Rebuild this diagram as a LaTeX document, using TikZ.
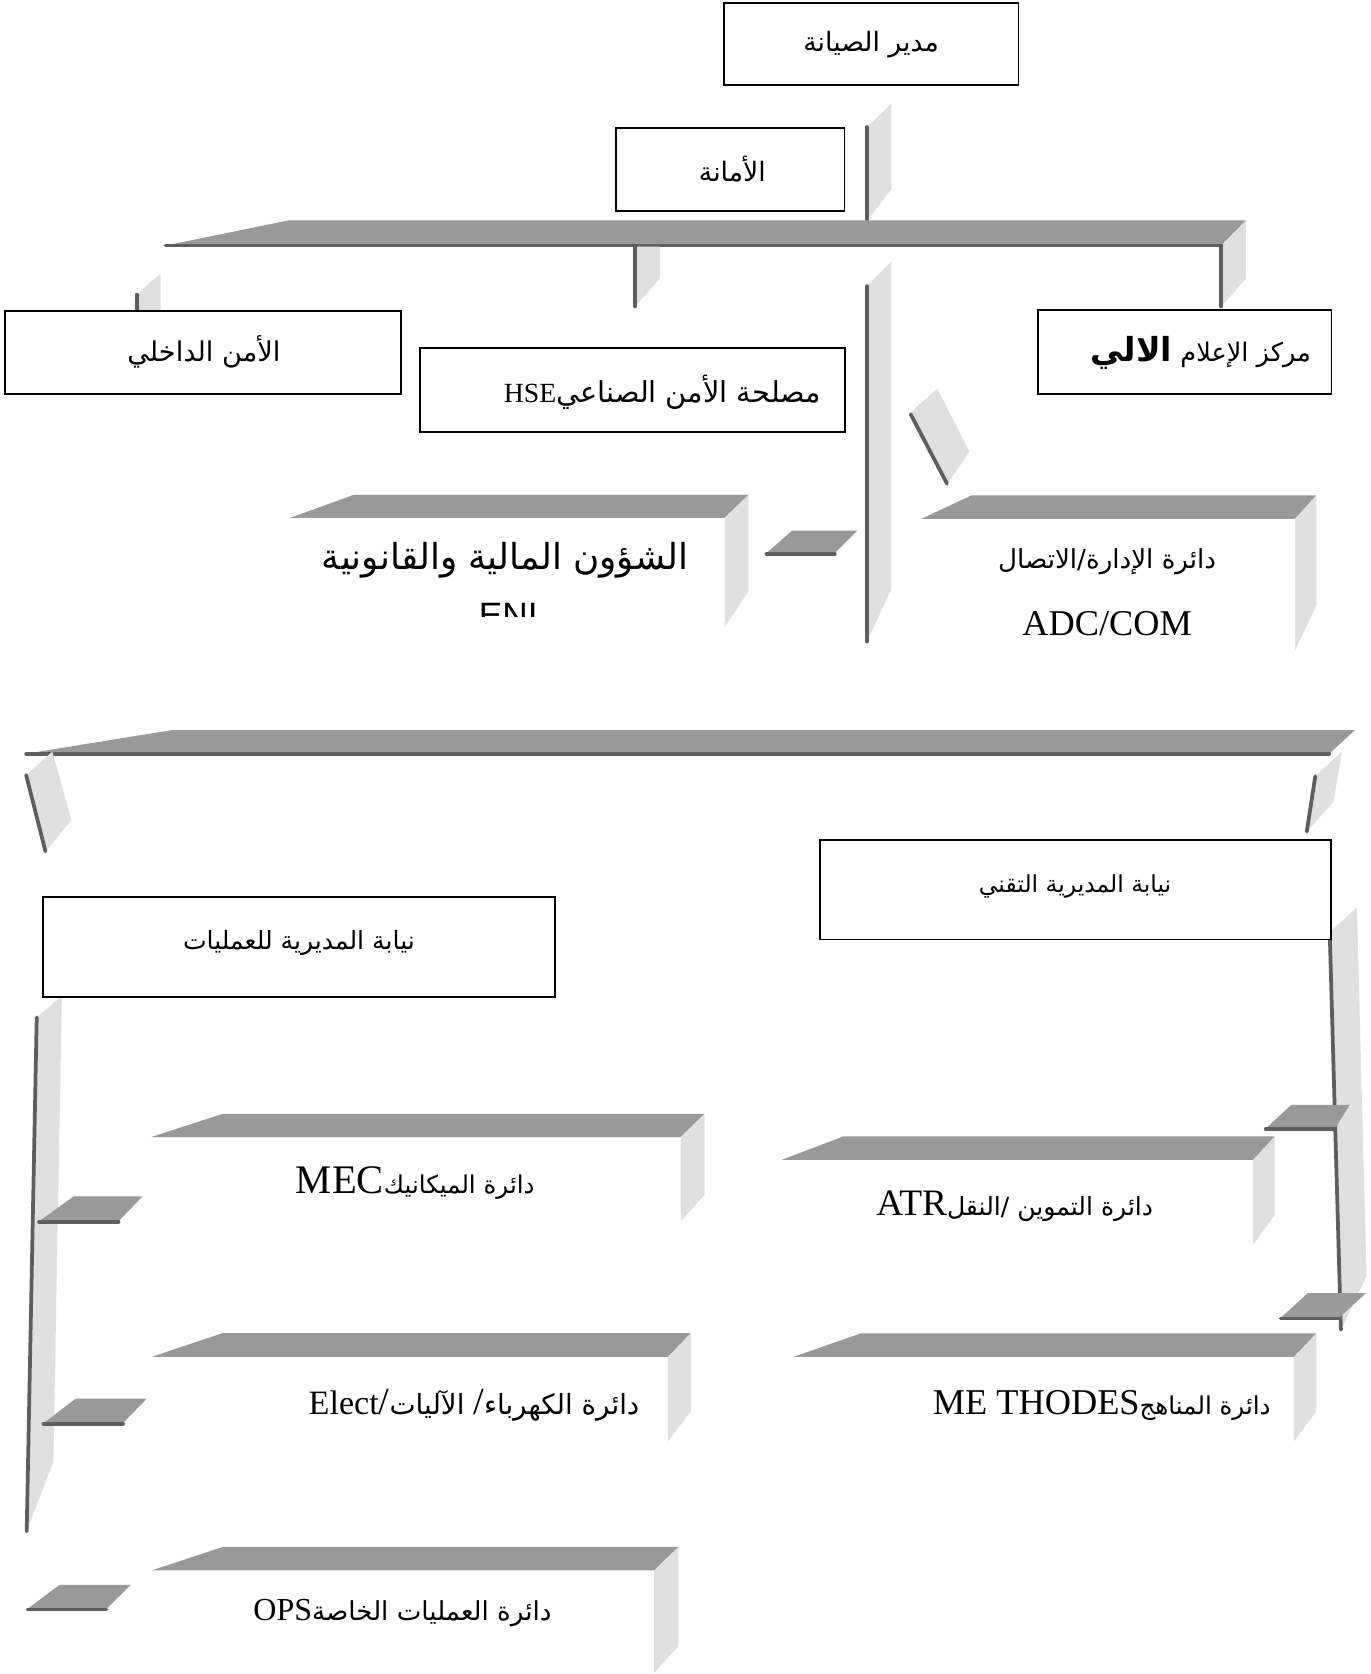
\documentclass[tikz,border=0pt]{standalone}
\usepackage{fontspec}
\setmainfont{Liberation Serif}
\newfontfamily\arabicfont[Script=Arabic]{DejaVu Sans}
\newfontfamily\latinfont{Liberation Serif}
\newfontfamily\latinsans{Liberation Sans}
\TeXXeTstate=1
\definecolor{plategray}{HTML}{999999}
\definecolor{sidegray}{HTML}{E0E0E0}
\definecolor{rimgray}{HTML}{5E5E5E}
\newcommand\fsz[1]{\fontsize{#1}{#1}\selectfont}
\newcommand\arab[1]{{\arabicfont\beginR #1\endR}}
\newcommand\lat[2]{\beginL{\latinfont\fsz{#1}#2}\endL{}}
\begin{document}
\begin{tikzpicture}[x=1pt,y=-1pt,
  box/.style={draw=black, line width=1.8pt, fill=white, inner sep=0pt},
  topface/.style={fill=plategray},
  sideface/.style={fill=sidegray},
  rimline/.style={draw=rimgray, line width=3.5pt, line cap=round},
  lbl/.style={inner sep=0pt, font=\arabicfont\fsz{#1}},
  lbl/.default=24]
\useasboundingbox (0,0) rectangle (1284,1568);

% ---------- upper level connectors ----------
% stem below the director
\fill[sideface] (812,119) -- (835,97) -- (835,177) -- (812,207) -- cycle;
\draw[rimline] (812,119) -- (812,206);
% main upper bar
\fill[topface] (155,230) -- (270,206.5) -- (1167,206.5) -- (1144,230) -- cycle;
\fill[sideface] (1144,230) -- (1167,206.5) -- (1167,261) -- (1144,287) -- cycle;
\draw[rimline] (155,230) -- (1144,230) -- (1144,287);
% drop to HSE
\fill[sideface] (595,231) -- (618,231) -- (618,261) -- (595,287) -- cycle;
\draw[rimline] (595,231) -- (595,287);
% drop to internal security
\fill[sideface] (128,276) -- (150.5,256) -- (150.5,291) -- (128,291) -- cycle;
\draw[rimline] (128,276) -- (128,291);
% central post
\fill[sideface] (812,268) -- (835,245) -- (835,552) -- (812,601) -- cycle;
\draw[rimline] (812,268) -- (812,601);
% tilted plate
\fill[sideface] (852,387) -- (878,364) -- (908,423) -- (887,454) -- cycle;
\draw[rimline] (853,388) -- (887,453);
% small plate towards finance
\fill[topface] (718,518) -- (742,497) -- (803,497) -- (782,518) -- cycle;
\draw[rimline] (718,519) -- (782,519);

% ---------- upper blocks ----------
\fill[topface] (272,485) -- (331,463.6) -- (701,463.6) -- (679,485) -- cycle;
\fill[sideface] (679,485) -- (701,463.6) -- (701,554) -- (679,587) -- cycle;
\fill[topface] (863,486) -- (910,464) -- (1233,464) -- (1213,486) -- cycle;
\fill[sideface] (1213,486) -- (1233,464) -- (1233,567) -- (1213,609) -- cycle;

% ---------- boxes ----------
\node[box, minimum width=276pt, minimum height=77pt] (dir) at (816,41.5) {};
\node[box, minimum width=214pt, minimum height=78pt] (sec) at (684,159) {};
\node[box, minimum width=371pt, minimum height=78pt] (isec) at (190.5,330) {};
\node[box, minimum width=398pt, minimum height=79pt] (hse) at (592.3,365.5) {};
\node[box, minimum width=275pt, minimum height=79pt] (info) at (1109.7,329.7) {};

\node[lbl=25] (dirt) at (816,42) {\arab{مدير الصيانة}};
\node[lbl=25] (sect) at (686,158) {\arab{الأمانة}};
\node[lbl=25.5] (isect) at (191,330) {\arab{الأمن الداخلي}};
\node[lbl=27] (hset) at (620.5,367) {\arab{مصلحة الأمن الصناعي\lat{26}{HSE}}};
\node[lbl=24] (infot) at (1124.6,331) {\arab{مركز الإعلام {\bfseries\fsz{31}الالي}}};

\node[lbl=33.5] (fint) at (473,524.5) {\arab{الشؤون المالية والقانونية}};
\begin{scope}
  \clip (272,540) rectangle (679,577.5);
  \node[inner sep=0pt, font=\latinsans\fsz{33}, anchor=north] (enit) at (476,565) {ENI};
\end{scope}
\node[lbl=24.5] (adct) at (1037,526) {\arab{دائرة الإدارة/الاتصال}};
\node[inner sep=0pt, font=\latinfont\fsz{34}] (adcl) at (1037,584) {ADC/COM};

% ---------- lower bar ----------
\fill[topface] (24.5,706) -- (160,684) -- (1269,684) -- (1245,706) -- cycle;
\draw[rimline] (24.5,706) -- (1245,706);
\fill[sideface] (24.5,726) -- (49,704) -- (67,768) -- (42.6,797.6) -- cycle;
\draw[rimline] (24.5,726) -- (42.6,797.6);
\fill[sideface] (1232,727) -- (1257,704) -- (1249,751) -- (1224,779) -- cycle;
\draw[rimline] (1232,727) -- (1224,779);

% ---------- technical branch ----------
\fill[sideface] (1245.5,873) -- (1271,850) -- (1280,1195) -- (1256,1246) -- cycle;
\draw[rimline] (1245.5,873) -- (1256,1245.6);
\fill[topface] (1185.6,1057) -- (1209.6,1034.8) -- (1264.2,1034.8) -- (1250.5,1057) -- cycle;
\draw[rimline] (1185.6,1057.5) -- (1250.5,1057.5);
\fill[topface] (1199.4,1234.6) -- (1225,1211.2) -- (1279.5,1211.2) -- (1254,1234.6) -- cycle;
\draw[rimline] (1199.4,1235) -- (1254,1235);

\fill[topface] (732,1086.4) -- (790,1064.5) -- (1194,1064.5) -- (1173.8,1086.4) -- cycle;
\fill[sideface] (1173.8,1086.4) -- (1194,1064.5) -- (1194,1138) -- (1173.8,1166) -- cycle;
\fill[topface] (743,1271) -- (806,1249) -- (1233,1249) -- (1212,1271) -- cycle;
\fill[sideface] (1212,1271) -- (1233,1249) -- (1233,1322) -- (1212,1350) -- cycle;

% ---------- operations branch ----------
\fill[sideface] (34.4,953) -- (58,933) -- (50,1369) -- (25,1434.4) -- cycle;
\draw[rimline] (34.4,953) -- (25,1434.4);
\fill[topface] (36.6,1144) -- (68.8,1120.7) -- (133.3,1120.7) -- (111,1144) -- cycle;
\draw[rimline] (36.6,1144.5) -- (111,1144.5);
\fill[topface] (40.8,1333) -- (71,1310) -- (137.6,1310) -- (115.2,1333) -- cycle;
\draw[rimline] (40.8,1333.5) -- (115.2,1333.5);
\fill[topface] (25.8,1507) -- (55.9,1484.4) -- (122.6,1484.4) -- (99.7,1507) -- cycle;
\draw[rimline] (25.8,1507.5) -- (99.7,1507.5);

\fill[topface] (141.9,1065) -- (208.5,1043.3) -- (660,1043.3) -- (637.7,1065) -- cycle;
\fill[sideface] (637.7,1065) -- (660,1043.3) -- (660,1119) -- (637.7,1144) -- cycle;
\fill[topface] (141.9,1271) -- (208.5,1248.7) -- (647.1,1248.7) -- (625.6,1271) -- cycle;
\fill[sideface] (625.6,1271) -- (647.1,1248.7) -- (647.1,1322) -- (625.6,1350) -- cycle;
\fill[topface] (141.9,1471) -- (208.5,1449) -- (635.5,1449) -- (612.7,1471) -- cycle;
\fill[sideface] (612.7,1471) -- (635.5,1449) -- (635.5,1542) -- (612.7,1567) -- cycle;

% ---------- lower boxes ----------
\node[box, minimum width=479pt, minimum height=93pt] (tech) at (1007.5,833.5) {};
\node[box, minimum width=479pt, minimum height=93pt] (ops) at (280,887) {};
\node[lbl=22] (techt) at (1007,830) {\arab{نيابة المديرية التقني}};
\node[lbl=23.5] (opst) at (280,883) {\arab{نيابة المديرية للعمليات}};

\node[lbl=23.5] (atrt) at (950.5,1130) {\arab{دائرة التموين /النقل\lat{35}{ATR}}};
\node[lbl=23] (metht) at (1032,1316) {\arab{دائرة المناهج\lat{34}{ME THODES}}};
\node[lbl=23] (mect) at (389,1108) {\arab{دائرة الميكانيك\lat{38}{MEC}}};
\node[lbl=26] (elect) at (444,1316) {\arab{دائرة الكهرباء{\latinfont\fsz{36}/} الآليات{\latinfont\fsz{36}/}\lat{32}{Elect}}};
\node[lbl=24.5] (opspt) at (377,1511) {\arab{دائرة العمليات الخاصة\lat{30}{OPS}}};
\end{tikzpicture}
\end{document}
